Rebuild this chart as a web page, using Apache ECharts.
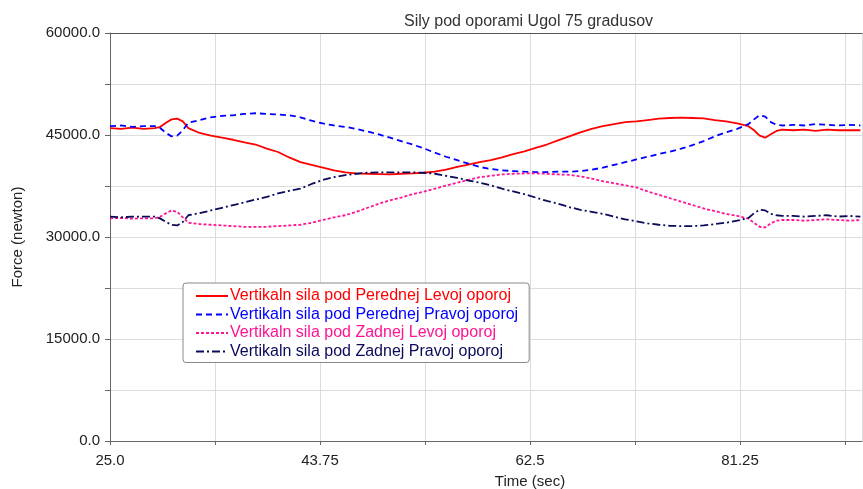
<!DOCTYPE html>
<html>
<head>
<meta charset="utf-8">
<script src="https://cdn.jsdelivr.net/npm/echarts@6/dist/echarts.min.js"></script>
<style>
html,body{margin:0;padding:0;background:#fff;}
#chart{width:863px;height:489px;}
</style>
</head>
<body>
<div id="chart"></div>
<script>
// ---- data ----
const titleText = 'Sily pod oporami Ugol 75 gradusov';
const xName = 'Time (sec)';
const yName = 'Force (newton)';
const seriesNames = [
  'Vertikaln sila pod Perednej Levoj oporoj',
  'Vertikaln sila pod Perednej Pravoj oporoj',
  'Vertikaln sila pod Zadnej Levoj oporoj',
  'Vertikaln sila pod Zadnej Pravoj oporoj'
];
const xTickLabels = ['25.0', '43.75', '62.5', '81.25'];
const yTickLabels = ['0.0', '15000.0', '30000.0', '45000.0', '60000.0'];

const time = [25,26,27,28,29,29.5,30,30.5,31,31.5,32,33,34,35,36,37,38,39,40,41,42,43,44,45,46,47,48,49,50,51,52,53,54,55,56,57,58,59,60,61,62,63,64,65,66,67,68,69,70,71,72,73,74,75,76,77,78,79,80,81,82,82.5,83,83.5,84,84.5,85,86,87,88,89,90,91,92];

const peredLevoj = [46000,45900,46100,45900,46000,46200,46800,47300,47400,47000,46000,45300,44900,44600,44300,43900,43600,43000,42500,41700,41000,40600,40200,39800,39500,39350,39300,39250,39200,39300,39350,39450,39600,39900,40300,40650,41000,41300,41700,42200,42600,43100,43600,44200,44800,45400,45900,46300,46600,46900,47000,47200,47400,47500,47550,47500,47450,47200,47000,46700,46300,45700,44900,44600,45100,45600,45800,45700,45800,45600,45800,45700,45700,45700];

const peredPravoj = [46300,46400,46200,46300,46300,46000,45300,44800,44900,45700,46800,47200,47600,47800,47900,48100,48200,48100,48000,47900,47600,47100,46700,46400,46200,45900,45500,45100,44600,44100,43600,43050,42400,41800,41300,40800,40300,40000,39800,39700,39600,39550,39550,39600,39600,39700,39900,40200,40600,41000,41400,41800,42200,42550,43000,43500,44100,44800,45400,45900,46600,47300,47900,47700,46900,46500,46400,46500,46400,46600,46500,46400,46500,46400];

const zadLevoj = [32750,32800,32700,32750,32750,33000,33500,33900,33700,32900,32100,31900,31800,31700,31600,31500,31500,31500,31600,31700,31800,32100,32500,32900,33200,33700,34300,34900,35400,35800,36300,36650,37100,37550,38000,38400,38800,39000,39200,39300,39350,39350,39300,39200,39150,38900,38600,38200,37900,37600,37300,36700,36200,35700,35200,34700,34200,33800,33400,33100,32700,32100,31500,31400,32000,32400,32500,32500,32400,32500,32600,32500,32400,32500];

const zadPravoj = [33000,32900,33000,33000,33000,32700,32200,31800,31700,32200,33200,33500,33900,34300,34700,35100,35500,35900,36400,36800,37100,37800,38400,38800,39100,39300,39450,39500,39500,39500,39500,39450,39300,39000,38700,38300,38000,37600,37100,36700,36300,35800,35300,34900,34400,34000,33700,33400,33000,32600,32300,32000,31800,31650,31600,31600,31700,31900,32100,32400,32800,33500,34000,33900,33400,33200,33100,33100,33000,33100,33200,33000,33100,33000];

const colors = ['#ff0000', '#0000ff', '#ff1493', '#0a0a5a'];
const dashTypes = ['solid', [6, 4], [3, 2], [8, 3, 2, 3]];
const values = [peredLevoj, peredPravoj, zadLevoj, zadPravoj];

// ---- chart ----
const chart = echarts.init(document.getElementById('chart'), null, {renderer: 'canvas'});
const FONT = 'Liberation Sans, Arial, sans-serif';

function fmtX(v) {
  const k = Math.round((v - 25) / 18.75);
  if (Math.abs(v - 25 - k * 18.75) < 1e-6 && k >= 0 && k < xTickLabels.length) return xTickLabels[k];
  return '';
}
function fmtY(v) {
  const k = Math.round(v / 15000);
  if (Math.abs(v - k * 15000) < 1e-6 && k >= 0 && k < yTickLabels.length) return yTickLabels[k];
  return '';
}

const series = values.map((arr, i) => ({
  name: seriesNames[i],
  type: 'line',
  data: time.map((t, j) => [t, arr[j]]),
  showSymbol: false,
  symbol: 'none',
  lineStyle: {color: colors[i], width: 1.8, type: dashTypes[i]},
  itemStyle: {color: colors[i]},
  animation: false
}));

chart.setOption({
  animation: false,
  backgroundColor: '#fff',
  title: {
    text: titleText,
    left: 399, top: 9,
    textStyle: {fontFamily: FONT, fontSize: 16, fontWeight: 'normal', color: '#333'}
  },
  grid: {left: 110, right: 1, top: 33, bottom: 48, outerBoundsMode: 'none', containLabel: false},
  legend: {
    orient: 'vertical',
    left: 183, top: 283,
    padding: [5, 11, 3, 12],
    backgroundColor: '#fff',
    borderColor: '#888',
    borderWidth: 1,
    borderRadius: 3,
    itemWidth: 32,
    itemHeight: 14,
    itemGap: 2.5,
    itemStyle: {opacity: 0},
    textStyle: {fontFamily: FONT, fontSize: 16, padding: [0, 0, 0, -3]},
    data: seriesNames.map((n, i) => ({name: n, textStyle: {color: colors[i]}}))
  },
  xAxis: [{
    type: 'value',
    min: 25, max: 92.14, interval: 9.375,
    name: xName, nameLocation: 'middle', nameGap: 33,
    nameTextStyle: {fontFamily: FONT, fontSize: 15, color: '#222', padding: [0, 0, 0, 88]},
    axisLine: {show: true, onZero: false, lineStyle: {color: '#666', width: 1}},
    axisTick: {show: true, length: 4, lineStyle: {color: '#666'}},
    axisLabel: {formatter: fmtX, margin: 12, fontFamily: FONT, fontSize: 15, color: '#222', showMaxLabel: false},
    splitLine: {show: true, lineStyle: {color: '#dcdcdc', width: 1}}
  }, {
    type: 'value', position: 'top',
    min: 25, max: 92.14, interval: 9.375,
    axisLine: {show: true, onZero: false, lineStyle: {color: '#555', width: 1}},
    axisTick: {show: false}, axisLabel: {show: false}, splitLine: {show: false}
  }],
  yAxis: {
    type: 'value',
    min: 0, max: 60000, interval: 7500,
    name: yName, nameLocation: 'middle', nameGap: 85,
    nameTextStyle: {fontFamily: FONT, fontSize: 15, color: '#222'},
    axisLine: {show: true, lineStyle: {color: '#666', width: 1}},
    axisTick: {show: true, length: 5, lineStyle: {color: '#666'}},
    axisLabel: {formatter: fmtY, margin: 10, fontFamily: FONT, fontSize: 15, color: '#222'},
    splitLine: {show: true, lineStyle: {color: '#dcdcdc', width: 1}}
  },
  series: series
});
</script>
</body>
</html>
